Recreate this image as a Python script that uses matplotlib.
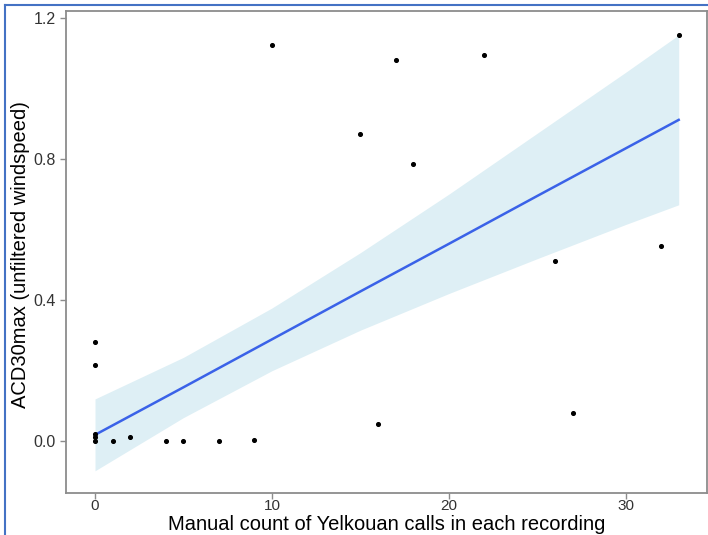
import matplotlib
matplotlib.use("Agg")
import matplotlib.pyplot as plt
from matplotlib.lines import Line2D

# observed recordings: manual count vs ACD30max
calls = [0, 0, 0, 0, 0, 1, 2, 4, 5, 7, 9, 10, 15, 16, 17, 18, 22, 26, 27, 32, 33]
acd30max = [0.28, 0.215, 0.0, 0.01, 0.02, 0.0, 0.011, 0.0, 0.0, 0.0, 0.003,
            1.123, 0.871, 0.048, 1.08, 0.786, 1.095, 0.51, 0.079, 0.553, 1.152]

# linear fit and its confidence band
fit_x = [0, 5, 10, 15, 20, 25, 30, 33]
fit_y = [0.017, 0.152, 0.288, 0.424, 0.559, 0.695, 0.830, 0.911]
band_lo = [-0.085, 0.066, 0.199, 0.314, 0.418, 0.517, 0.614, 0.670]
band_hi = [0.119, 0.237, 0.377, 0.534, 0.700, 0.873, 1.046, 1.152]

x_ticks = [0, 10, 20, 30]
y_ticks = [0.0, 0.4, 0.8, 1.2]

plt.rcParams['font.family'] = ['Liberation Sans', 'DejaVu Sans']

fig = plt.figure(figsize=(7.08, 5.35), dpi=100)
ax = fig.add_axes([66 / 708, 1 - 493 / 535, 641 / 708, 482 / 535])

ax.fill_between(fit_x, band_lo, band_hi, color='#ADD8E6', alpha=0.4, linewidth=0)
ax.plot(fit_x, fit_y, color='#3A62E8', linewidth=1.8)
ax.scatter(calls, acd30max, s=7, color='black', zorder=3)

ax.set_xlim(-1.64, 34.6)
ax.set_ylim(-0.148, 1.22)
ax.set_xticks(x_ticks)
ax.set_yticks(y_ticks)
ax.set_yticklabels([f"{v:.1f}" for v in y_ticks])

for side in ['left', 'bottom', 'top', 'right']:
    ax.spines[side].set_color('#8c8c8c')
    ax.spines[side].set_linewidth(1.3)
ax.tick_params(colors='#8c8c8c', labelcolor='#333333', labelsize=11.5, length=4, width=1)
ax.tick_params(axis='x', pad=0, labelsize=11)

ax.set_xlabel('Manual count of Yelkouan calls in each recording', fontsize=14.5, va='baseline')
ax.xaxis.set_label_coords(0.5, (493 - 530) / 482)
ax.set_ylabel('ACD30max (unfiltered windspeed)', fontsize=14.5, va='center')
ax.yaxis.set_label_coords((21 - 66) / 641, (493 - 255) / 482)

# blue screenshot frame on the left and top edges
fig.add_artist(Line2D([5 / 708, 5 / 708], [0, 1 - 5 / 535], transform=fig.transFigure,
                      color='#4472C4', linewidth=1.5))
fig.add_artist(Line2D([5 / 708, 1], [1 - 5 / 535, 1 - 5 / 535], transform=fig.transFigure,
                      color='#4472C4', linewidth=1.5))

fig.savefig('out.png', dpi=100)
